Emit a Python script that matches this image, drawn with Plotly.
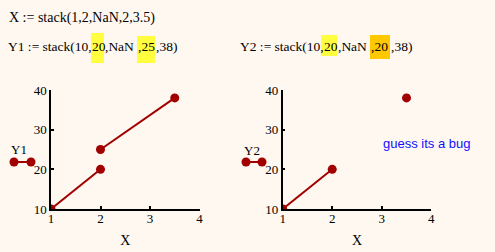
import plotly.graph_objects as go

# ---- data ----
X = [1, 2, None, 2, 3.5]
Y1 = [10, 20, None, 25, 38]
Y2 = [10, 20, None, 20, 38]
# what Mathcad actually drew for Y2 (the "bug": no segment from (2,20) to (3.5,38))
Y2_drawn = [10, 20, None, None, 38]

x_ticks = [1, 2, 3, 4]
y_ticks = [10, 20, 30, 40]

def_x = "X := stack(1,2,NaN,2,3.5)"
# definition rows split into pieces so the highlighted values can be boxed
def_y1 = ["Y1 := stack(10,", "20", ",NaN", ",25", ",38)"]
def_y2 = ["Y2 := stack(10,", "20", ",NaN", ",20", ",38)"]
note = "guess its a bug"

W, H = 495, 252
BG = "#FFF8F0"
RED = "#A00000"
SERIF = "Liberation Serif, Times New Roman, serif"
SANS = "Liberation Sans, Arial, sans-serif"
CLEAR = "rgba(0,0,0,0)"

def px(x):
    return x / W

def py(y):
    return 1 - y / H

fig = go.Figure()

fig.add_trace(go.Scatter(x=X, y=Y1, mode="lines+markers", xaxis="x", yaxis="y",
                         line=dict(color=RED, width=2), marker=dict(color=RED, size=9),
                         connectgaps=False, showlegend=False, hoverinfo="skip"))
fig.add_trace(go.Scatter(x=X, y=Y2_drawn, mode="lines+markers", xaxis="x2", yaxis="y2",
                         line=dict(color=RED, width=2), marker=dict(color=RED, size=9),
                         connectgaps=False, showlegend=False, hoverinfo="skip"))

# legend samples on an overlay pixel-space axis
for x0, x1 in [(14, 31), (246, 262)]:
    fig.add_trace(go.Scatter(x=[x0, x1], y=[162, 162], mode="lines+markers", xaxis="x3", yaxis="y3",
                             line=dict(color=RED, width=2), marker=dict(color=RED, size=9),
                             showlegend=False, hoverinfo="skip", cliponaxis=False))

ydom = [py(209), py(90)]
common_ax = dict(showgrid=False, zeroline=False, showline=True, linecolor="black", linewidth=1.5,
                 ticks="inside", ticklen=3, tickcolor="black", tickwidth=1.5, automargin=False,
                 tickfont=dict(family=SERIF, size=13, color="black"), fixedrange=True)
xtitle = dict(text="X", font=dict(family=SERIF, size=14, color="black"), standoff=10)

fig.update_layout(
    width=W, height=H, autosize=False,
    margin=dict(l=0, r=0, t=0, b=0, autoexpand=False),
    paper_bgcolor=BG, plot_bgcolor=CLEAR,
    xaxis=dict(domain=[px(51), px(199.5)], range=[1, 4], tickvals=x_ticks, anchor="y",
               title=xtitle, ticklabelstandoff=-3, **common_ax),
    yaxis=dict(domain=ydom, range=[10, 40], tickvals=y_ticks, anchor="x", **common_ax),
    xaxis2=dict(domain=[px(282.7), px(431.3)], range=[1, 4], tickvals=x_ticks, anchor="y2",
                title=xtitle, ticklabelstandoff=-3, **common_ax),
    yaxis2=dict(domain=ydom, range=[10, 40], tickvals=y_ticks, anchor="x2", **common_ax),
    xaxis3=dict(domain=[0, 1], range=[0, W], visible=False, fixedrange=True, automargin=False),
    yaxis3=dict(domain=[0, 1], range=[H, 0], visible=False, fixedrange=True, automargin=False),
)

# highlight boxes behind values
hl = [(91, 104, 33, 63, "#FFFF40"), (137, 155, 36, 63, "#FFFF40"),
      (321, 337, 35, 56, "#FFFF40"), (370, 390, 35, 59, "#FFC800")]
for x0, x1, y0, y1, c in hl:
    fig.add_shape(type="rect", xref="paper", yref="paper", x0=px(x0), x1=px(x1), y0=py(y1), y1=py(y0),
                  fillcolor=c, line=dict(width=0), layer="above")

def txt(s, x, y, font, xanchor="left"):
    fig.add_annotation(text=s, x=px(x), y=py(y), xref="paper", yref="paper", xanchor=xanchor,
                       yanchor="middle", showarrow=False, font=font, borderpad=0)

f14 = dict(family=SERIF, size=14, color="black")
f135 = dict(family=SERIF, size=13.5, color="black")
f13 = dict(family=SERIF, size=13, color="black")
txt(def_x, 8, 18, f14)
for s, x in zip(def_y1, [7, 91, 104, 137, 155]):
    txt(s, x, 46, f135)
for s, x in zip(def_y2, [238.5, 322.5, 337, 370, 390]):
    txt(s, x, 46, f135)
txt("Y1", 19, 149, f13, "center")
txt("Y2", 251.5, 150, f13, "center")
txt(note, 382, 143, dict(family=SANS, size=13, color="#1010FF"))

fig.write_html("out.html")
